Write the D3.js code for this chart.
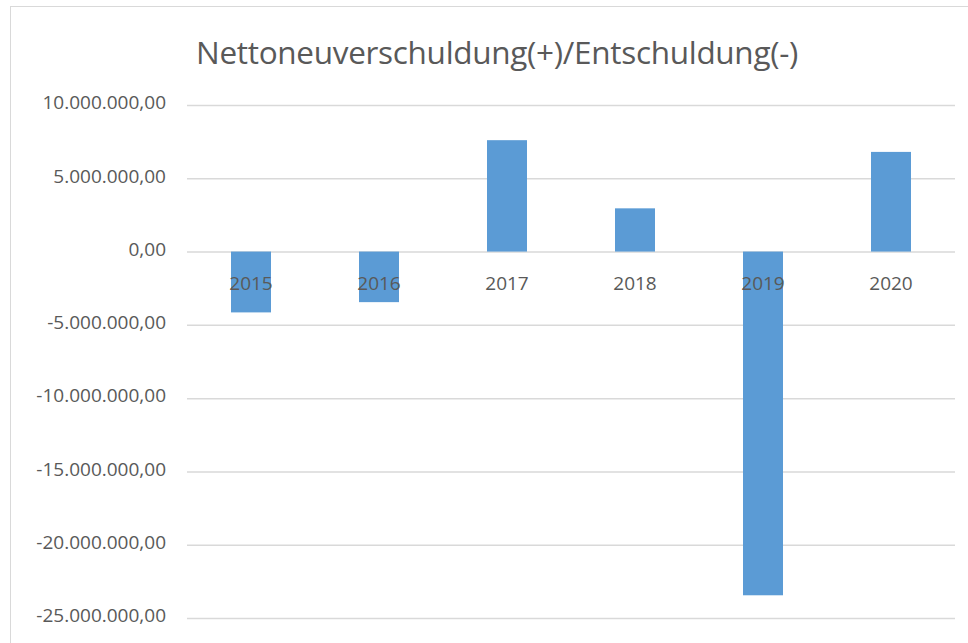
<!DOCTYPE html>
<html>
<head>
<meta charset="utf-8">
<script src="https://cdn.jsdelivr.net/npm/d3@7"></script>
<style>
  body { margin: 0; background: #fff; }
  text { font-family: "Open Sans", "Liberation Sans", sans-serif; fill: #595959; }
</style>
</head>
<body>
<script>
// Daten
const years = ["2015", "2016", "2017", "2018", "2019", "2020"];
const values = [-4150000, -3450000, 7600000, 2950000, -23450000, 6800000];
const yTicks = [10000000, 5000000, 0, -5000000, -10000000, -15000000, -20000000, -25000000];
const title = "Nettoneuverschuldung(+)/Entschuldung(-)";

const width = 968, height = 643;
const margin = { top: 105, right: 13, bottom: 25, left: 187 };

const de = d3.formatLocale({ decimal: ",", thousands: ".", grouping: [3], currency: ["", " €"], minus: "-" });
const fmt = de.format(",.2f");

const svg = d3.select("body").append("svg")
    .attr("width", width)
    .attr("height", height);

// Rahmen
svg.append("rect")
    .attr("x", 10.5).attr("y", 6.5)
    .attr("width", width).attr("height", height)
    .attr("fill", "#fff")
    .attr("stroke", "#d9d9d9");

const x = d3.scaleBand()
    .domain(years)
    .range([margin.left, width - margin.right])
    .paddingInner(0.6875)
    .paddingOuter(0.34375);

const y = d3.scaleLinear()
    .domain([-25000000, 10000000])
    .range([height - margin.bottom, margin.top]);

// Titel
svg.append("text")
    .attr("x", 497)
    .attr("y", 64)
    .attr("text-anchor", "middle")
    .style("font-size", "31.5px")
    .style("letter-spacing", "-0.3px")
    .text(title);

// Gitterlinien + Beschriftung
const axisy = d3.axisLeft(y)
    .tickValues(yTicks)
    .tickSize(-(width - margin.right - margin.left))
    .tickPadding(21)
    .tickFormat(fmt);

svg.append("g")
    .attr("transform", `translate(${margin.left},0)`)
    .call(axisy)
    .call(g => g.select(".domain").remove())
    .call(g => g.selectAll(".tick line").attr("stroke", "#d9d9d9").attr("stroke-width", 1.5))
    .call(g => g.selectAll(".tick text")
        .style("font-size", "19px")
        .attr("fill", "#595959")
        .attr("dy", "0.2em"));

// Balken
svg.append("g")
    .selectAll("rect")
    .data(years.map((d, i) => ({ year: d, value: values[i] })))
    .join("rect")
    .attr("x", d => x(d.year))
    .attr("width", x.bandwidth())
    .attr("y", d => y(Math.max(0, d.value)))
    .attr("height", d => Math.abs(y(d.value) - y(0)))
    .attr("fill", "#5b9bd5");

// Kategorien
svg.append("g")
    .selectAll("text")
    .data(years)
    .join("text")
    .attr("x", d => x(d) + x.bandwidth() / 2)
    .attr("y", y(0) + 38)
    .attr("text-anchor", "middle")
    .style("font-size", "19px")
    .text(d => d);
</script>
</body>
</html>
